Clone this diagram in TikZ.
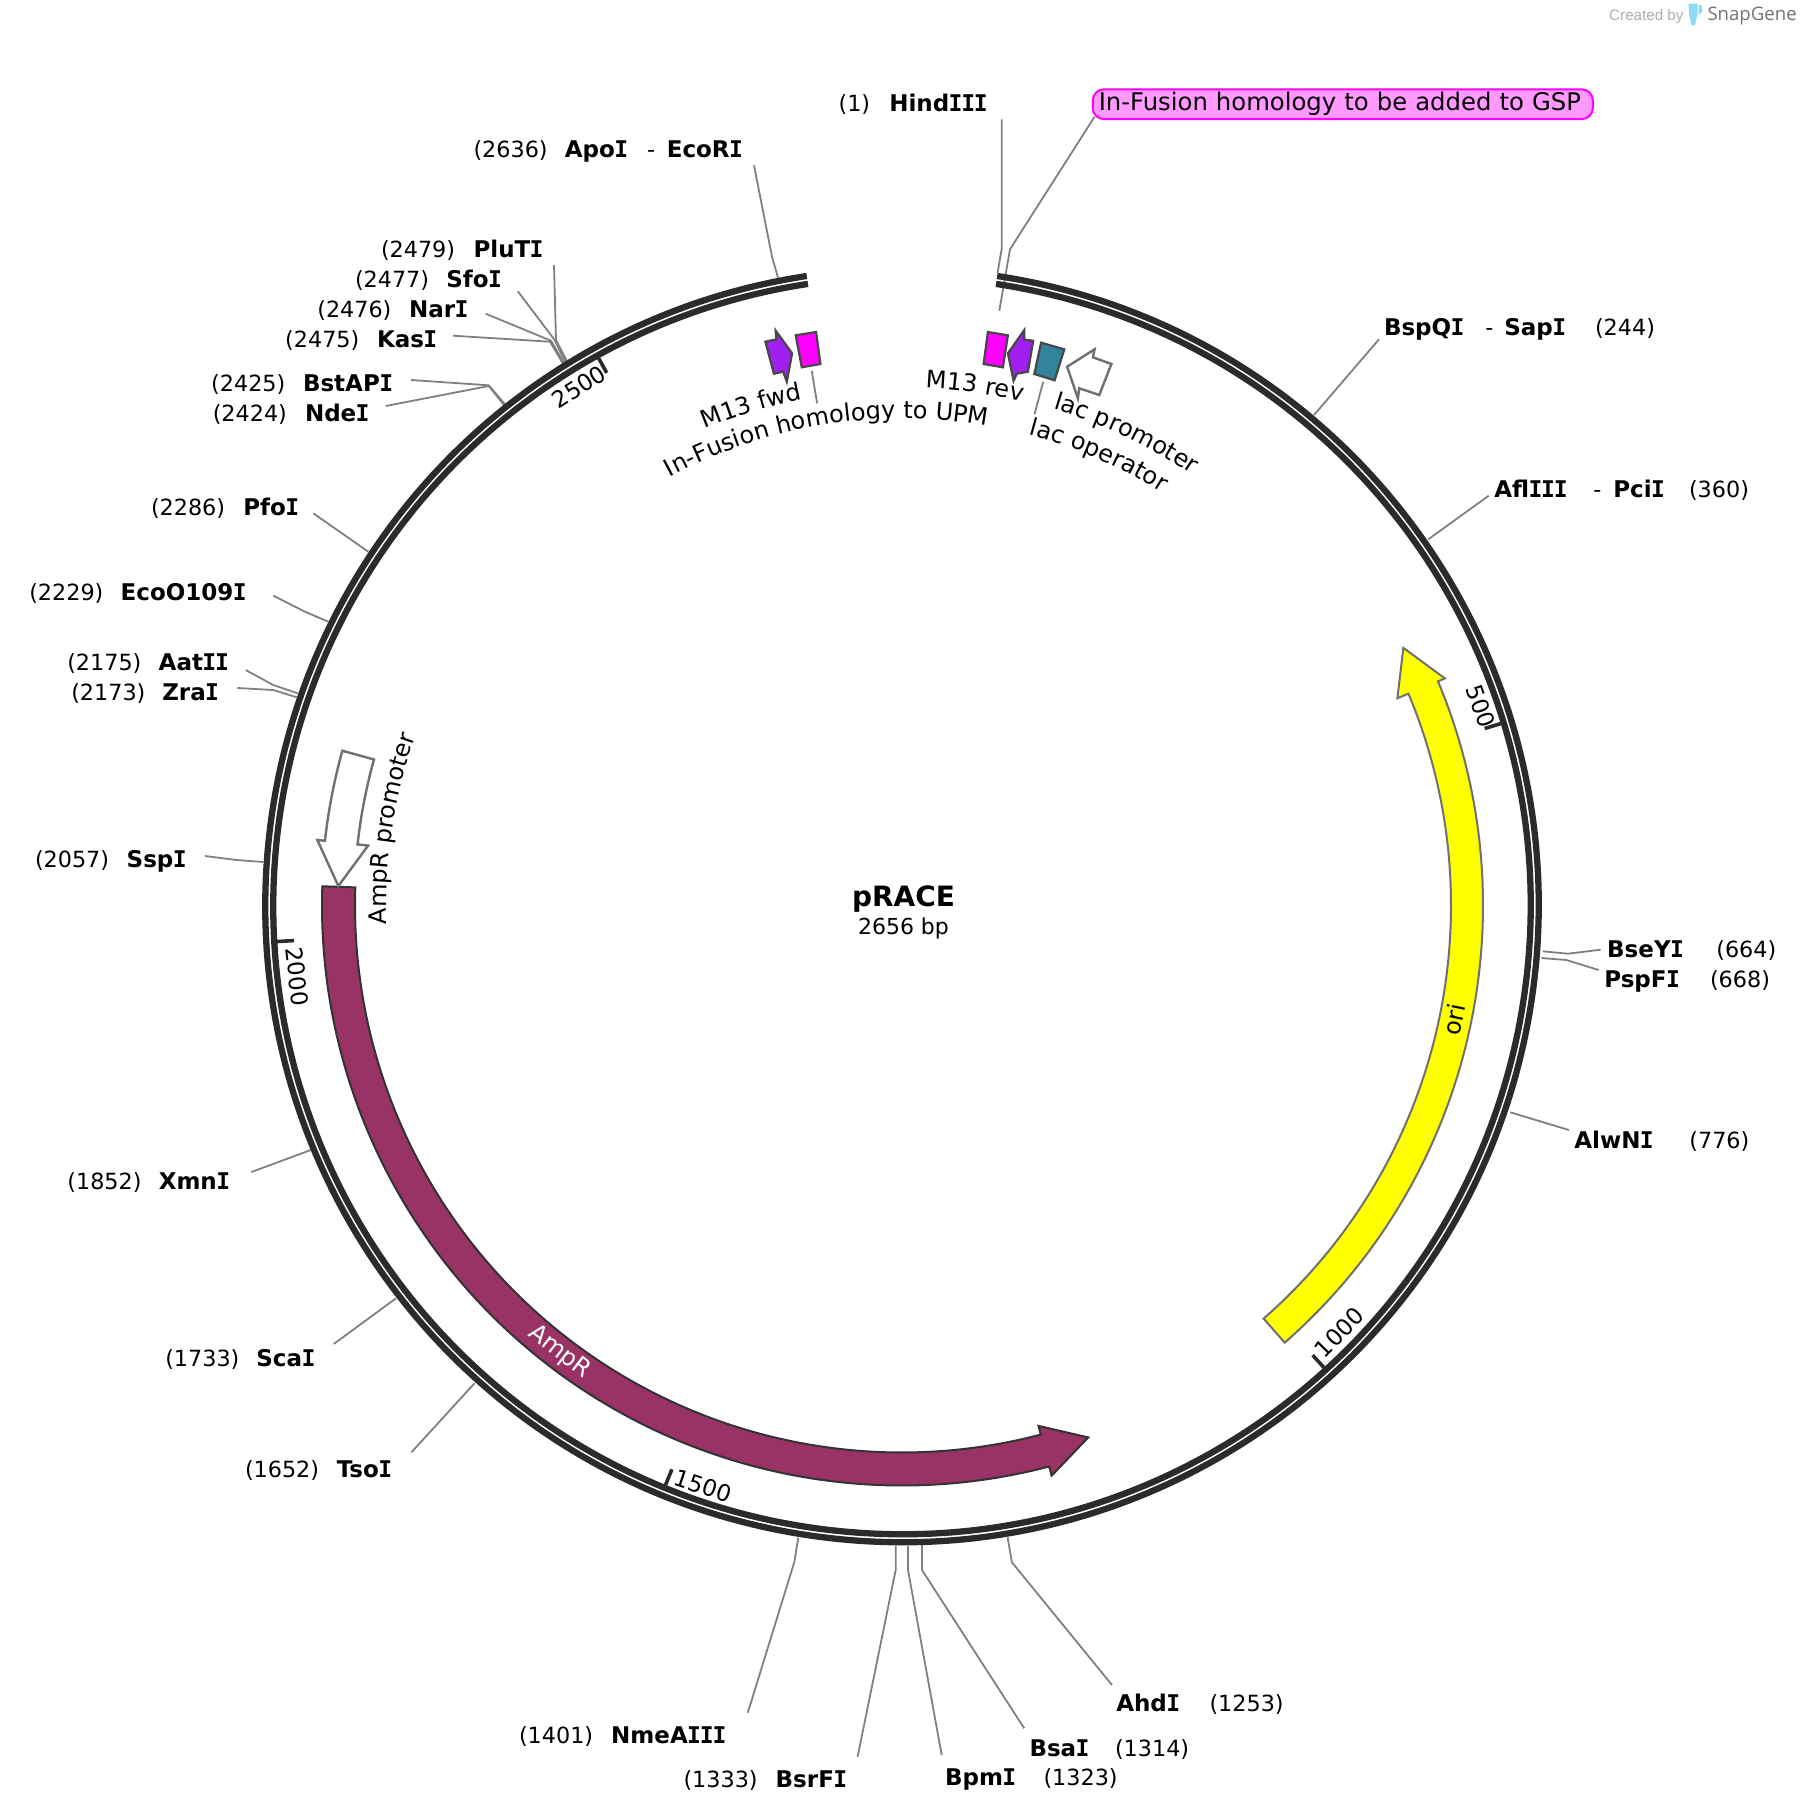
\documentclass[tikz,border=0pt]{standalone}
\usepackage{fontspec}
\setmainfont{DejaVu Sans}
\newfontfamily\logofont{Liberation Sans}
\newfontfamily\logobrand{Open Sans}
\newfontfamily\monob{DejaVu Sans Mono}
\usetikzlibrary{decorations.text}
\definecolor{ringc}{HTML}{2B2B2B}
\definecolor{leadc}{HTML}{808080}
\definecolor{ampc}{HTML}{993366}
\definecolor{oric}{HTML}{FFFF00}
\definecolor{purp}{HTML}{A020F0}
\definecolor{mag}{HTML}{FF00FF}
\definecolor{tealc}{HTML}{31849B}
\definecolor{callc}{HTML}{FF99FF}
\newcommand\lblfont{\fontsize{22.3}{26}\selectfont}
\newcommand\featfont{\fontsize{24}{28}\selectfont}
\tikzset{
  enzlabel/.style={anchor=base west,inner sep=0pt,outer sep=0pt,font=\lblfont,text=black},
  leadline/.style={draw=leadc,line width=1.8pt,line join=round},
  ringline/.style={draw=ringc,line width=6.3pt},
  tickline/.style={draw=ringc,line width=3.6pt},
  ticklabel/.style={inner sep=0pt,font=\fontsize{23}{26}\selectfont},
  featlabel/.style={inner sep=0pt,font=\featfont},
  openarrow/.style={draw=black!56,fill=white,line width=2.4pt,line join=miter},
  smallfeat/.style={draw=black!72,line width=2.2pt,line join=miter},
}
\newcommand\nb[2]{\makebox[#1pt][l]{#2}}
\newcommand\eb[1]{{\bfseries\fontsize{23}{26}\selectfont #1}}
\newcommand\sI{\kern-0.6pt{\monob I}\kern-0.6pt}
\newcommand\enz[4]{\node[enzlabel] (#1) at (#2,-#3) {#4};}
\newcommand\leadthree[4]{\coordinate (#1a) at (#2); \coordinate (#1b) at (#3); \coordinate (#1c) at (#4);
  \draw[leadline] (#1a) -- (#1b) -- (#1c);}
\newcommand\leadtwo[3]{\coordinate (#1a) at (#2); \coordinate (#1c) at (#3);
  \draw[leadline] (#1a) -- (#1c);}
% curved label: args: centre angle, half span, radius, text
\newcommand\arctext[4]{\path[decorate,decoration={text along path,text align=center,
    text={|\featfont|#4}}] ({90-(#1)+(#2)}:#3) arc[start angle={90-(#1)+(#2)},end angle={90-(#1)-(#2)},radius=#3];}
\begin{document}
\begin{tikzpicture}[x=1pt,y=1pt]
\useasboundingbox (0,0) rectangle (1802,-1816);
\fill[white] (0,0) rectangle (1802,-1816);

% logo
\node[anchor=base west,inner sep=0pt,text=black!32] (created) at (1609,-20.7) {\logofont\fontsize{15.2}{18}\selectfont Created by};
\fill[cyan!45!white] (1688.5,-3.5) -- (1697.5,-3.5) -- (1697.5,-14) -- (1695,-25) -- (1691.5,-25) -- (1689,-14) -- cycle;
\fill[cyan!45!white] (1698.5,-5) -- (1702,-5.5) -- (1702,-12) -- (1698.5,-15) -- cycle;
\node[anchor=base west,inner sep=0pt,text=black!55] (brand) at (1707.3,-20.7) {\logobrand\fontsize{18.6}{22}\selectfont SnapGene};

% leader lines
\leadthree{apoi}{754,-165.3}{772,-256.7}{778,-277.7}
\leadthree{pluti}{554,-265}{556,-340}{567.3,-361.7}
\leadthree{sfoi}{517.9,-291.3}{554.6,-340}{565.3,-361.7}
\leadthree{nari}{485.7,-313.7}{551,-340.7}{563.8,-362.3}
\leadthree{kasi}{453,-335.7}{550,-341.7}{562.8,-363.3}
\leadthree{bstapi}{411.2,-380}{488.8,-385.3}{505,-404.3}
\leadthree{ndei}{385.7,-406}{488.8,-386}{504,-405}
\leadtwo{pfoi}{313.3,-513.3}{368.3,-551.7}
\leadthree{eco}{273.3,-595.7}{305,-611.7}{328.3,-621.7}
\leadthree{aatii}{245.7,-670}{273.3,-685}{297.7,-693.3}
\leadthree{zrai}{237.3,-688}{273.3,-690}{296.7,-697.3}
\leadthree{sspi}{205,-856}{236.7,-860}{263.3,-862}
\leadtwo{xmni}{251.4,-1172}{310.8,-1150}
\leadtwo{scai}{333.7,-1344}{396,-1298.3}
\leadtwo{tsoi}{411.4,-1452.3}{474.5,-1383.3}
\leadthree{nme}{747.8,-1712.7}{794.4,-1561.7}{798.2,-1537.7}
\leadthree{bsrfi}{857.6,-1756.7}{895.7,-1570}{895.7,-1546}
\leadthree{bpmi}{941.7,-1755}{908,-1570}{908,-1546}
\leadthree{bsai}{1024.2,-1728.3}{922,-1570}{922,-1545}
\leadthree{ahdi}{1112,-1685}{1011.9,-1562.3}{1007.6,-1537.3}
\leadthree{bseyi}{1600.6,-949.7}{1567.8,-953.7}{1542.8,-951.3}
\leadthree{pspfi}{1598.7,-970}{1566.3,-960}{1541.6,-958}
\leadtwo{alwni}{1568.9,-1130}{1510.3,-1112.3}
\leadtwo{bspqi}{1379,-339.3}{1314,-415}
\leadtwo{afliii}{1488.7,-495.7}{1428.3,-539.3}
\leadthree{hindiii}{1001.8,-119.3}{1001.8,-248.3}{997.5,-273}
\leadthree{callout}{1094.6,-116.7}{1010,-249.3}{999.3,-310.7}
\leadtwo{lacop}{1043.2,-381.7}{1034.6,-414}
\leadtwo{upm}{811.8,-371}{817.1,-403.3}

% ring, ticks and features, in polar coordinates about the centre
\begin{scope}[shift={(902,-905.5)}]
  \draw[ringline] (81.4:628.7) arc[start angle=81.4,end angle=-261.4,radius=628.7];
  \draw[ringline] (81.4:636.7) arc[start angle=81.4,end angle=-261.4,radius=636.7];
  \coordinate (t500a) at (16.9:626); \coordinate (t500b) at (16.9:609);
  \coordinate (t1000a) at (-47.6:626); \coordinate (t1000b) at (-47.6:609);
  \coordinate (t1500a) at (-112.2:626); \coordinate (t1500b) at (-112.2:609);
  \coordinate (t2000a) at (-176.7:626); \coordinate (t2000b) at (-176.7:609);
  \coordinate (t2500a) at (119:626); \coordinate (t2500b) at (119:609);
  \draw[tickline] (t500a) -- (t500b);
  \draw[tickline] (t1000a) -- (t1000b);
  \draw[tickline] (t1500a) -- (t1500b);
  \draw[tickline] (t2000a) -- (t2000b);
  \draw[tickline] (t2500a) -- (t2500b);
  \node[ticklabel,rotate=-70.8] (l500) at (19:612) {500};
  \node[ticklabel,rotate=45.7] (l1000) at (-44.3:611) {1000};
  \node[ticklabel,rotate=-18.9] (l1500) at (-108.9:613.5) {1500};
  \node[ticklabel,rotate=-83.3] (l2000) at (-173.3:609) {2000};
  \node[ticklabel,rotate=31.9] (l2500) at (121.9:611) {2500};

  % ori
  \draw[draw=black!56,fill=oric,line width=2pt,line join=miter]
    (-48.8:549) arc[start angle=-48.8,end angle=22.7,radius=549]
    -- (22.7:537) -- (27.2:563.7) -- (22.7:588.5) -- (22.7:581)
    arc[start angle=22.7,end angle=-48.8,radius=581] -- cycle;
  \node[featlabel,rotate=78.3] (ori) at (-11.7:563.5) {ori};

  % AmpR
  \draw[draw=black!80,fill=ampc,line width=2pt,line join=miter]
    (178.1:580) arc[start angle=178.1,end angle=284.7,radius=580]
    -- (284.7:589.5) -- (289.3:563.6) -- (284.7:538) -- (284.7:547)
    arc[start angle=284.7,end angle=178.1,radius=547] -- cycle;
  \node[featlabel,text=white,rotate=-37.5] (ampr) at (-127.5:563) {AmpR};

  % AmpR promoter
  \draw[openarrow]
    (164.54:580.7) arc[start angle=164.54,end angle=173.6,radius=580.7]
    -- (173.6:588.4) -- (178.02:564) -- (173.6:537.3) -- (173.6:547.9)
    arc[start angle=173.6,end angle=164.54,radius=547.9] -- cycle;

  % curved labels
  \arctext{278.55}{35}{515.5}{AmpR promoter}
  \arctext{-16.8}{30}{516}{M13 fwd}
  \arctext{-9.2}{40}{487}{In-Fusion homology to UPM}
  \arctext{8}{30}{518}{M13 rev}
  \arctext{25.4}{30}{519.5}{lac promoter}
  \arctext{23.6}{30}{488}{lac operator}
\end{scope}

% small features at the top
\draw[smallfeat,fill=purp] (765.4,-341.7) -- (776.4,-339.3) -- (775.7,-330.7) -- (792.1,-353.3) -- (786.8,-381.7) -- (783.2,-371.7) -- (773.9,-373.7) -- cycle;
\draw[smallfeat,fill=mag] (795.7,-335.3) -- (816.1,-332) -- (820.4,-364) -- (801.8,-367.3) -- cycle;
\draw[smallfeat,fill=mag] (987.9,-332) -- (1007.9,-335.3) -- (1002.9,-367.3) -- (983.6,-364) -- cycle;
\draw[smallfeat,fill=purp] (1033.2,-340.7) -- (1024.3,-339.7) -- (1024.3,-330) -- (1007.9,-353.3) -- (1013.6,-380.7) -- (1016.8,-373.7) -- (1027.9,-371.7) -- cycle;
\draw[smallfeat,fill=tealc] (1041.1,-342.7) -- (1064.3,-349.3) -- (1054.6,-380.3) -- (1034.3,-374) -- cycle;
\draw[openarrow] (1067.1,-366.7) -- (1094.6,-349.3) -- (1092.9,-357.3) -- (1111.4,-364) -- (1099.3,-395) -- (1079.3,-388.3) -- (1077.9,-398.3) -- cycle;

% callout
\node[draw=mag,fill=callc,line width=2pt,rounded corners=11pt,anchor=west,minimum height=29.7pt,inner xsep=6pt,inner ysep=0pt,text width=488pt,align=left,font=\fontsize{24.3}{28}\selectfont,text depth=5pt,text height=18.5pt] (infusion) at (1091.8,-104.2) {In-Fusion homology to be added to GSP};

% centre title
\node[inner sep=0pt,anchor=base,font=\bfseries\fontsize{28}{31}\selectfont] (title) at (903.5,-906.5) {pRACE};
\node[inner sep=0pt,anchor=base,font=\fontsize{22}{26}\selectfont] (size) at (903.5,-934) {2656 bp};

% enzyme labels
\enz{lhind}{838.6}{111.7}{\nb{50.7}{(1)}\eb{Hind\sI\sI\sI}}
\enz{lapo}{473.5}{157.6}{\nb{91.3}{(2636)}\nb{82.2}{\eb{Apo\sI}}\nb{19.8}{-}\eb{EcoR\sI}}
\enz{lplu}{381}{257.7}{\nb{92.5}{(2479)}\eb{PluT\sI}}
\enz{lsfo}{355}{287.7}{\nb{91.4}{(2477)}\eb{Sfo\sI}}
\enz{lnar}{317.3}{317.7}{\nb{91.9}{(2476)}\eb{Nar\sI}}
\enz{lkas}{285.2}{347.7}{\nb{91.8}{(2475)}\eb{Kas\sI}}
\enz{lbst}{211.2}{391.7}{\nb{91.8}{(2425)}\eb{BstAP\sI}}
\enz{lnde}{212.8}{421.7}{\nb{92.2}{(2424)}\eb{Nde\sI}}
\enz{lpfo}{151}{515.7}{\nb{92.3}{(2286)}\eb{Pfo\sI}}
\enz{leco}{29.3}{600}{\nb{91.4}{(2229)}\eb{EcoO109\sI}}
\enz{laat}{67.3}{670}{\nb{91.4}{(2175)}\eb{Aat\sI\sI}}
\enz{lzra}{71.3}{700}{\nb{91}{(2173)}\eb{Zra\sI}}
\enz{lssp}{35}{867.7}{\nb{91.7}{(2057)}\eb{Ssp\sI}}
\enz{lxmn}{67.4}{1189}{\nb{91.4}{(1852)}\eb{Xmn\sI}}
\enz{lsca}{165.3}{1366}{\nb{91.1}{(1733)}\eb{Sca\sI}}
\enz{ltso}{245}{1477.7}{\nb{91.8}{(1652)}\eb{Tso\sI}}
\enz{lnme}{519}{1743.3}{\nb{92.2}{(1401)}\eb{NmeA\sI\sI\sI}}
\enz{lbsr}{683.5}{1787.7}{\nb{92.2}{(1333)}\eb{BsrF\sI}}
\enz{lbpm}{945}{1785.5}{\nb{98.5}{\eb{Bpm\sI}}(1323)}
\enz{lbsa}{1029.5}{1756}{\nb{85.5}{\eb{Bsa\sI}}(1314)}
\enz{lahd}{1116.3}{1711}{\nb{93.2}{\eb{Ahd\sI}}(1253)}
\enz{lbse}{1607.2}{957.7}{\nb{109.1}{\eb{BseY\sI}}(664)}
\enz{lpsp}{1604.3}{987.7}{\nb{105.7}{\eb{PspF\sI}}(668)}
\enz{lalw}{1574.3}{1148.5}{\nb{115.1}{\eb{AlwN\sI}}(776)}
\enz{lbsp}{1384}{335.7}{\nb{101.3}{\eb{BspQ\sI}}\nb{19}{-}\nb{90.7}{\eb{Sap\sI}}(244)}
\enz{lafl}{1494.3}{497.7}{\nb{99}{\eb{Afl\sI\sI\sI}}\nb{20}{-}\nb{75.7}{\eb{Pci\sI}}(360)}
\end{tikzpicture}
\end{document}
